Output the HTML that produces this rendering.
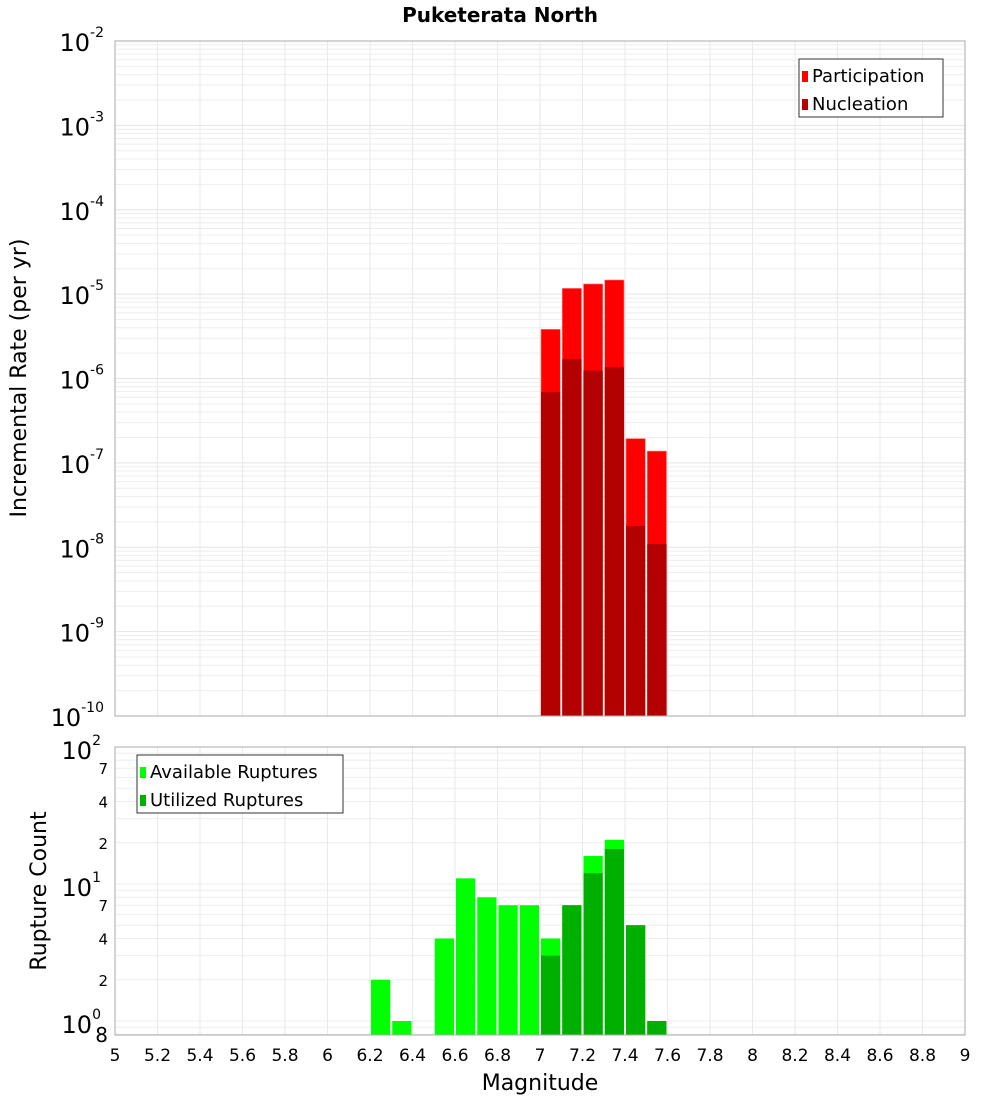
<!DOCTYPE html>
<html><head><meta charset="utf-8"><style>
body{margin:0;background:#fff;font-family:"DejaVu Sans","Liberation Sans",sans-serif}
svg text{font-family:"DejaVu Sans","Liberation Sans",sans-serif}
</style></head><body>
<svg id="c" width="1000" height="1100" xmlns="http://www.w3.org/2000/svg">
<text x="500" y="22" text-anchor="middle" font-size="20" font-weight="bold">Puketerata North</text>
<g id="topg"></g>
<g id="botg"></g>
<text transform="translate(26,378) rotate(-90)" text-anchor="middle" font-size="22">Incremental Rate (per yr)</text>
<text transform="translate(46,891) rotate(-90)" text-anchor="middle" font-size="22">Rupture Count</text>
<text x="540" y="1090" text-anchor="middle" font-size="22">Magnitude</text>
</svg>
<script>
const mags=[7.05,7.15,7.25,7.35,7.45,7.55];
const participation=[3.83e-6,1.17e-5,1.32e-5,1.47e-5,1.94e-7,1.38e-7];
const nucleation=[6.9e-7,1.7e-6,1.24e-6,1.36e-6,1.79e-8,1.09e-8];
const countMags=[6.25,6.35,6.55,6.65,6.75,6.85,6.95,7.05,7.15,7.25,7.35,7.45,7.55];
const available=[2,1,4,11,8,7,7,4,7,16,21,5,1];
const utilized=[0,0,0,0,0,0,0,3,7,12,18,5,1];
const xTicks=[5,5.2,5.4,5.6,5.8,6,6.2,6.4,6.6,6.8,7,7.2,7.4,7.6,7.8,8,8.2,8.4,8.6,8.8,9];
const topExps=[-2,-3,-4,-5,-6,-7,-8,-9,-10];
const botTicks=[1,2,4,7,10,20,40,70,100];

const NS="http://www.w3.org/2000/svg";
const svg=document.getElementById('c');
function el(p,t,a){const e=document.createElementNS(NS,t);for(const k in a)e.setAttribute(k,a[k]);p.appendChild(e);return e;}
const L=115,R=965;
const X=m=>L+(m-5)*(R-L)/4;
const bw=(R-L)/40;
const T0=41,T1=716;
const YT=v=>T0+(-2-Math.log10(v))*(T1-T0)/8;
const B0=747,B1=1035;
const YB=v=>1021-Math.log10(v)*137;

const topG=document.getElementById('topg'), botG=document.getElementById('botg');
for(let e=-10;e<-2;e++)for(let k=1;k<10;k++){const y=YT(k*Math.pow(10,e));
 const g=el(topG,'line',{x1:L,x2:R,y1:y,y2:y,stroke:k==1?'#e4e4e4':'#eeeeee','stroke-width':1});
 
 }
for(let e=-1;e<2;e++)for(let k=1;k<10;k++){const y=YB(k*Math.pow(10,e));if(y<B0||y>B1)continue;
 const g=el(botG,'line',{x1:L,x2:R,y1:y,y2:y,stroke:'#eeeeee','stroke-width':1});
 
 }
xTicks.forEach(m=>{const x=X(m);
 const a=el(topG,'line',{x1:x,x2:x,y1:T0,y2:T1,stroke:'#eaeaea'});
 
 
 const b=el(botG,'line',{x1:x,x2:x,y1:B0,y2:B1,stroke:'#eaeaea'});
 
 
 const t=el(svg,'text',{x:x,y:1061,'text-anchor':'middle','font-size':17});t.textContent=m;
 
 });
mags.forEach((m,i)=>{const x=X(m-0.05)+1;
 const p=el(topG,'rect',{x:x,y:YT(participation[i]),width:bw-2,height:T1-YT(participation[i]),fill:'#ff0000',stroke:'#ff8080','stroke-width':0.6});
 
 
 const n=el(topG,'rect',{x:x,y:YT(nucleation[i]),width:bw-2,height:T1-YT(nucleation[i]),fill:'#b30000'});
 
 });
countMags.forEach((m,i)=>{const x=X(m-0.05)+1;
 if(available[i]>0){const p=el(botG,'rect',{x:x,y:YB(available[i]),width:bw-2,height:B1-YB(available[i]),fill:'#00ff00'});
 
 }
 if(utilized[i]>0){const n=el(botG,'rect',{x:x,y:YB(utilized[i]),width:bw-2,height:B1-YB(utilized[i]),fill:'#00b000'});
 
 }});
let f=el(topG,'rect',{x:L,y:T0,width:R-L,height:T1-T0,fill:'none',stroke:'#aaa'});


f=el(botG,'rect',{x:L,y:B0,width:R-L,height:B1-B0,fill:'none',stroke:'#aaa'});


topExps.forEach(e=>{const y=YT(Math.pow(10,e));
 const t=el(svg,'text',{x:104,y:y+10,'text-anchor':'end','font-size':24});
 
 
 t.appendChild(document.createTextNode('10'));
 const s=el(t,'tspan',{'font-size':14,dy:-14});s.textContent=e;});
botTicks.forEach(v=>{const y=YB(v);const lg=Math.log10(v);
 if(Number.isInteger(lg)){const t=el(svg,'text',{x:101,y:y+12,'text-anchor':'end','font-size':24});
  
  
  t.appendChild(document.createTextNode('10'));const s=el(t,'tspan',{'font-size':14,dy:-14});s.textContent=lg;}
 else{const t=el(svg,'text',{x:108,y:y+6,'text-anchor':'end','font-size':15});t.textContent=String(v).charAt(0);
  
  }});
let t8=el(svg,'text',{x:108,y:1042,'text-anchor':'end','font-size':20});t8.textContent='8';


function legend(p,x,y,w,items,nm){const g=el(p,'g',{});
 
 
 el(g,'rect',{x:x,y:y,width:w,height:58,fill:'#fff',stroke:'#333'});
 items.forEach((it,i)=>{el(g,'rect',{x:x+3,y:y+12+i*28,width:6,height:11,fill:it[1]});
  const t=el(g,'text',{x:x+13,y:y+23+i*28,'font-size':18});t.textContent=it[0];});}
legend(topG,799,59,144,[['Participation','#ff0000'],['Nucleation','#b30000']],'rate-legend');
legend(botG,137,755,206,[['Available Ruptures','#00ff00'],['Utilized Ruptures','#00b000']],'count-legend');
</script>
</body></html>
